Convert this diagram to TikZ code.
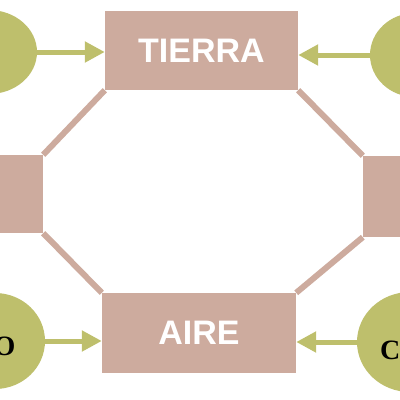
\documentclass[tikz,border=0pt]{standalone}
\usepackage{fontspec}
\setmainfont{Liberation Serif}
\setsansfont{Liberation Sans}
\usetikzlibrary{shapes.geometric,arrows.meta}
\definecolor{boxc}{RGB}{205,171,158}
\definecolor{greenc}{RGB}{190,191,108}
\tikzset{
  elem/.style={fill=boxc, draw=none, inner sep=0pt, text=white, font=\sffamily\bfseries\fontsize{34}{34}\selectfont},
  blob/.style={ellipse, fill=greenc, draw=none, inner sep=0pt},
  garrow/.style={draw=greenc, line width=5pt, -{Triangle[length=20pt,width=20pt]}},
  link/.style={draw=boxc, line width=6pt},
  lbl/.style={font=\bfseries\fontsize{28}{28}\selectfont, text=black, inner sep=0pt}
}
\begin{document}
\begin{tikzpicture}[x=1pt,y=-1pt]
\useasboundingbox (0,0) rectangle (400,400);
\clip (0,0) rectangle (400,400);
\node[elem, minimum width=193pt, minimum height=79pt] (tierra) at (201.5,50.5) {TIERRA};
\node[elem, minimum width=194pt, minimum height=80pt] (aire) at (199,333) {AIRE};
\node[elem, minimum width=66pt, minimum height=78pt] (left) at (10,194) {};
\node[elem, minimum width=67pt, minimum height=81pt] (right) at (396.5,196.5) {};
% octagon links
\draw[link] (tierra.south west) -- (left.north east);
\draw[link] (tierra.south east) -- (right.north west);
\draw[link] (left.south east) -- (aire.north west);
\draw[link] (right.south west) -- (aire.north east);
% blobs
\node[blob, minimum width=96pt, minimum height=84pt] (tl) at (-11,52) {};
\node[blob, minimum width=90pt, minimum height=84pt] (tr) at (415,55) {};
\node[blob, minimum width=100pt, minimum height=96pt] (bl) at (-5,341) {};
\node[blob, minimum width=106pt, minimum height=100pt] (br) at (410,342) {};
\node[lbl, anchor=east] (blt) at (15.5,346) {O};
\node[lbl, anchor=west] (brt) at (380,350) {C};
% arrows
\draw[garrow] (tl.east) -- (tl.east -| tierra.west);
\draw[garrow] (tr.west) -- (tr.west -| tierra.east);
\draw[garrow] (bl.east) -- (bl.east -| aire.west);
\draw[garrow] (br.west) -- (br.west -| aire.east);
\end{tikzpicture}
\end{document}
